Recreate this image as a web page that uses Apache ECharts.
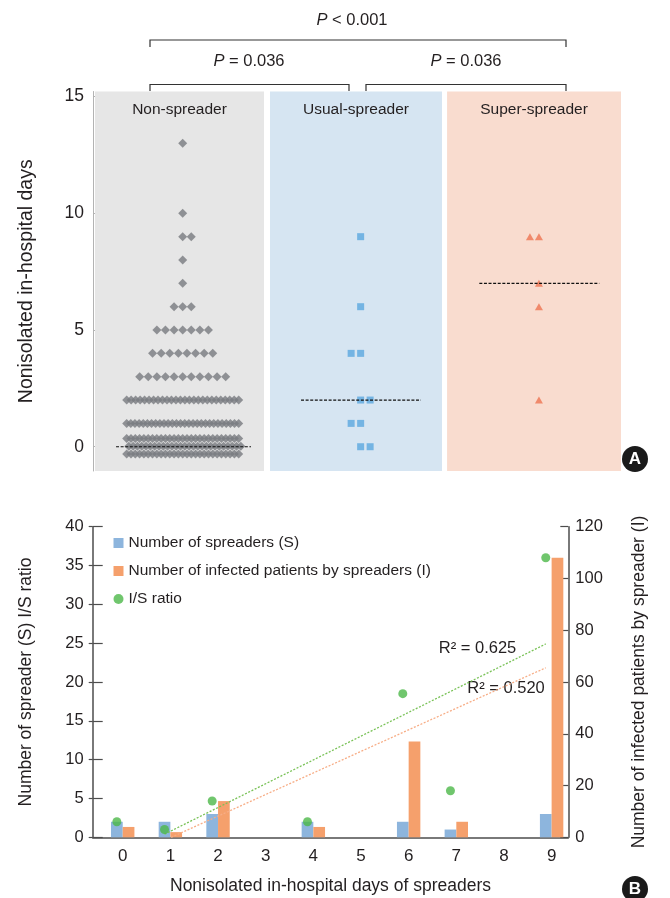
<!DOCTYPE html>
<html><head><meta charset="utf-8">
<script src="https://cdn.jsdelivr.net/npm/echarts@6/dist/echarts.min.js"></script>
<style>html,body{margin:0;padding:0;background:#fff}#c{width:670px;height:898px}</style>
</head><body><div id="c"></div>
<script>
// ---------- Panel A data ----------
const groupNames = ['Non-spreader', 'Usual-spreader', 'Super-spreader'];
const nonSpreaderDays   = [0, 1, 2, 3, 4, 5, 6, 7, 8, 9, 10, 13];
const nonSpreaderCounts = [81, 28, 26, 11, 8, 7, 3, 1, 1, 2, 1, 1];
const usualSpreaderDays = [9, 6, 4, 4, 2, 2, 1, 1, 0, 0];
const superSpreaderDays = [9, 9, 7, 6, 2];
const groupMedians = [0, 2, 7];
const yTicksA = [0, 5, 10, 15];
const pLabels = ['P < 0.001', 'P = 0.036', 'P = 0.036'];

// ---------- Panel B data ----------
const spreaderDays = [0, 1, 2, 4, 6, 7, 9];
const spreadersS   = [2, 2, 3, 2, 2, 1, 3];
const infectedI    = [4, 2, 14, 4, 37, 6, 108];
const ratioIS      = [2, 1, 4.67, 2, 18.5, 6, 36];
const xTicksB      = [0, 1, 2, 3, 4, 5, 6, 7, 8, 9];
const trendIS      = [[1, 0.4], [9, 24.9]];
const trendI       = [[1.14, 0], [9, 65.5]];
const r2Labels     = ['R\u00b2 = 0.625', 'R\u00b2 = 0.520'];

// ---------- layout ----------
const FONT = '"Liberation Sans", Arial, Helvetica, sans-serif';
const TXT = '#231f20';
const GA = {left: 95, top: 91.5, width: 526, height: 379.5};
const unitPx = GA.width / 3;
const centers = [0.5, 1.515, 2.532];

function swarm(values, center, spacingPx, maxWidthPx, firstPairSide, maxPerRow) {
  const rows = new Map();
  values.forEach(v => rows.set(v, (rows.get(v) || 0) + 1));
  const pts = [];
  let side = firstPairSide;
  [...rows.keys()].sort((a, b) => b - a).forEach(v => {
    const total = rows.get(v);
    const m = Math.ceil(total / maxPerRow);
    for (let k = 0; k < m; k++) {
      const n = Math.round(total / m) + (k < total - Math.round(total / m) * m ? 1 : 0);
      const yOff = m > 1 ? (((m - 1) / 2 - k) * 0.33 + 0.02) : 0;
      const s = n > 1 ? Math.min(spacingPx, maxWidthPx / (n - 1)) : 0;
      const shift = (m > 1 && k % 2 === 1) ? s / 2 : 0;
      for (let i = 0; i < n; i++) {
        let off;
        if (n === 2) off = (side > 0 ? i : i - 1) * s;
        else off = (i - (n - 1) / 2) * s + shift;
        pts.push([center + off / unitPx, v + yOff]);
      }
      if (n === 2) side = -side;
    }
  });
  return pts;
}
const nonVals = [];
nonSpreaderDays.forEach((d, i) => { for (let k = 0; k < nonSpreaderCounts[i]; k++) nonVals.push(d); });

const nonPts = swarm(nonVals, centers[0], 8.6, 112, 1, 30);
const usualPts = swarm(usualSpreaderDays, centers[1], 9.5, 112, -1, 30);
const superPts = swarm(superSpreaderDays, centers[2], 9, 112, -1, 30);

const bgColors = ['#e6e6e6', '#d6e5f2', '#f9dccf'];
const bgRanges = [[0, 0.964], [0.998, 1.979], [2.008, 3.0]];
const medHalf = [0.385, 0.342, 0.342];
const medCenter = [0.505, 1.517, 2.534];

function medianSeries(i) {
  return {
    type: 'line', xAxisIndex: 0, yAxisIndex: 0, z: 5, silent: true, symbol: 'none',
    data: [[medCenter[i] - medHalf[i], groupMedians[i]], [medCenter[i] + medHalf[i], groupMedians[i]]],
    lineStyle: {color: '#111', width: 1.2, type: [3, 1.6]}
  };
}

const chart = echarts.init(document.getElementById('c'));
const option = {
  animation: false,
  textStyle: {fontFamily: FONT},
  grid: [
    {left: GA.left, top: GA.top, width: GA.width, height: GA.height},
    {left: 92.7, top: 526.7, width: 475.6, height: 310.6}
  ],
  legend: {
    orient: 'vertical', left: 113.5, top: 535, itemWidth: 10, itemHeight: 10, itemGap: 12, padding: 0,
    textStyle: {fontSize: 15.5, color: TXT, fontFamily: FONT},
    data: [
      {name: 'Number of spreaders (S)', icon: 'rect'},
      {name: 'Number of infected patients by spreaders (I)', icon: 'rect'},
      {name: 'I/S ratio', icon: 'circle'}
    ]
  },
  xAxis: [
    {gridIndex: 0, type: 'value', min: 0, max: 3, show: false},
    {gridIndex: 1, type: 'value', min: -0.63, max: 9.35,
      axisLine: {show: true, onZero: false, lineStyle: {color: '#4d4d4d', width: 1.5}},
      axisTick: {show: false}, splitLine: {show: false},
      axisLabel: {customValues: xTicksB, fontSize: 17, color: TXT, margin: 11},
      name: 'Nonisolated in-hospital days of spreaders', nameLocation: 'middle', nameGap: 40,
      nameTextStyle: {fontSize: 17.5, color: TXT}},
    {gridIndex: 1, type: 'value', min: -0.507, max: 9.473, show: false}
  ],
  yAxis: [
    {gridIndex: 0, type: 'value', min: -1.04, max: 15.22, offset: 2,
      axisLine: {show: true, onZero: false, lineStyle: {color: '#b3b3b3', width: 1}},
      axisTick: {show: true, inside: true, length: 5, customValues: yTicksA, lineStyle: {color: '#b3b3b3'}},
      axisLabel: {customValues: yTicksA, fontSize: 17.5, color: TXT, margin: 9},
      splitLine: {show: false},
      name: 'Nonisolated in-hospital days', nameLocation: 'middle', nameGap: 56, nameRotate: 90,
      nameTextStyle: {fontSize: 19.5, color: TXT}},
    {gridIndex: 1, type: 'value', min: 0, max: 40, interval: 5, position: 'left',
      axisLine: {show: true, onZero: false, lineStyle: {color: '#4d4d4d', width: 1.5}},
      axisTick: {show: true, inside: true, length: 10, lineStyle: {color: '#4d4d4d', width: 1.2}},
      axisLabel: {fontSize: 16.5, color: TXT, margin: 9},
      splitLine: {show: false},
      name: 'Number of spreader (S) I/S ratio', nameLocation: 'middle', nameGap: 58, nameRotate: 90,
      nameTextStyle: {fontSize: 17.5, color: TXT}},
    {gridIndex: 1, type: 'value', min: 0, max: 120, interval: 20, position: 'right',
      axisLine: {show: true, onZero: false, lineStyle: {color: '#4d4d4d', width: 1.5}},
      axisTick: {show: true, inside: true, length: 8, lineStyle: {color: '#4d4d4d', width: 1.2}},
      axisLabel: {fontSize: 16.5, color: TXT, margin: 7},
      splitLine: {show: false},
      name: 'Number of infected patients by spreader (I)', nameLocation: 'middle', nameGap: 62, nameRotate: 90,
      nameTextStyle: {fontSize: 17.5, color: TXT}},
    {gridIndex: 1, type: 'value', min: 0, max: 40, interval: 5, position: 'left',
      axisLine: {show: false, onZero: false}, axisLabel: {show: false}, splitLine: {show: false},
      axisTick: {show: true, inside: false, length: 4, lineStyle: {color: '#4d4d4d', width: 1.2}}}
  ],
  series: [
    {type: 'scatter', name: groupNames[0], xAxisIndex: 0, yAxisIndex: 0, data: nonPts,
      symbol: 'diamond', symbolSize: 9, itemStyle: {color: '#787b80'}, z: 3,
      markArea: {silent: true, z: 1,
        label: {show: true, position: 'insideTop', distance: 10, fontSize: 15.5, color: TXT, fontFamily: FONT},
        data: groupNames.map((g, i) => [
          {name: g, xAxis: bgRanges[i][0], yAxis: -1.04, itemStyle: {color: bgColors[i]}},
          {xAxis: bgRanges[i][1], yAxis: 15.22}
        ])}},
    {type: 'scatter', name: groupNames[1], xAxisIndex: 0, yAxisIndex: 0, data: usualPts,
      symbol: 'rect', symbolSize: 7, itemStyle: {color: '#5ba7de'}, z: 3},
    {type: 'scatter', name: groupNames[2], xAxisIndex: 0, yAxisIndex: 0, data: superPts,
      symbol: 'triangle', symbolSize: [8, 7], itemStyle: {color: '#ee7451'}, z: 3},
    medianSeries(0), medianSeries(1), medianSeries(2),

    {type: 'bar', name: 'Number of spreaders (S)', xAxisIndex: 1, yAxisIndex: 1,
      data: spreaderDays.map((d, i) => [d, spreadersS[i]]), barWidth: 11.7, barGap: '0%',
      itemStyle: {color: '#8db5dd'}},
    {type: 'bar', name: 'Number of infected patients by spreaders (I)', xAxisIndex: 1, yAxisIndex: 2,
      data: spreaderDays.map((d, i) => [d, infectedI[i]]), barWidth: 11.7, barGap: '0%',
      itemStyle: {color: '#f5a06c'}},
    {type: 'line', name: 'trendIS', xAxisIndex: 2, yAxisIndex: 1, data: trendIS, symbol: 'none', z: 4,
      lineStyle: {color: '#79c257', width: 1.3, type: [2, 1.6]}},
    {type: 'line', name: 'trendI', xAxisIndex: 2, yAxisIndex: 2, data: trendI, symbol: 'none', z: 4,
      lineStyle: {color: '#f7ad86', width: 1.3, type: [2, 1.6]}},
    {type: 'scatter', name: 'I/S ratio', xAxisIndex: 2, yAxisIndex: 1,
      data: spreaderDays.map((d, i) => [d, ratioIS[i]]), symbolSize: 9, z: 6,
      itemStyle: {color: '#4cb849'}}
  ],
  graphic: [
    {type: 'polyline', shape: {points: [[150, 47], [150, 40], [566, 40], [566, 47]]}, style: {stroke: '#333', lineWidth: 1.2, fill: null}},
    {type: 'polyline', shape: {points: [[150, 91], [150, 84.5], [349, 84.5], [349, 91]]}, style: {stroke: '#333', lineWidth: 1.2, fill: null}},
    {type: 'polyline', shape: {points: [[366, 91], [366, 84.5], [566, 84.5], [566, 91]]}, style: {stroke: '#333', lineWidth: 1.2, fill: null}},
    ...[[352, 20], [249, 61.5], [466, 61.5]].map((p, i) => ({
      type: 'text', x: p[0], y: p[1],
      style: {text: '{i|P}' + pLabels[i].slice(1), align: 'center', verticalAlign: 'middle',
        font: '16.5px ' + FONT, fill: TXT,
        rich: {i: {fontStyle: 'italic', fontSize: 16.5, fontFamily: FONT, fill: TXT}}}
    })),
    {type: 'text', x: 477.5, y: 648, style: {text: r2Labels[0], align: 'center', verticalAlign: 'middle', font: '16.5px ' + FONT, fill: TXT}},
    {type: 'text', x: 506, y: 688, style: {text: r2Labels[1], align: 'center', verticalAlign: 'middle', font: '16.5px ' + FONT, fill: TXT}},
    {type: 'circle', shape: {cx: 635, cy: 459, r: 13}, style: {fill: '#1a1a1a'}},
    {type: 'text', x: 635, y: 459.5, style: {text: 'A', align: 'center', verticalAlign: 'middle', font: 'bold 17px ' + FONT, fill: '#fff'}},
    {type: 'circle', shape: {cx: 635, cy: 889, r: 13}, style: {fill: '#1a1a1a'}},
    {type: 'text', x: 635, y: 889.5, style: {text: 'B', align: 'center', verticalAlign: 'middle', font: 'bold 17px ' + FONT, fill: '#fff'}}
  ]
};
chart.setOption(option);
</script>
</body></html>
